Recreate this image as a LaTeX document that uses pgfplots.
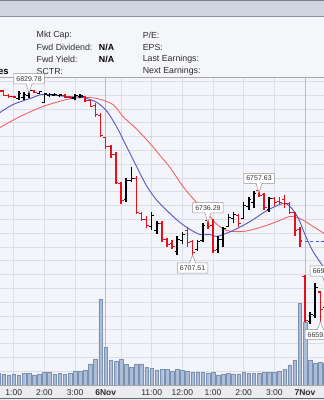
\documentclass[border=0pt]{standalone}
\usepackage{pgfplots}
\pgfplotsset{compat=1.18}
\usepackage{pgfplotstable}
\usepackage{fontspec}
\setmainfont{Liberation Sans}
\usetikzlibrary{shapes.callouts,calc}

\definecolor{hdr}{RGB}{207,212,224}
\definecolor{hdrline}{RGB}{120,126,140}
\definecolor{infobg}{RGB}{245,246,250}
\definecolor{chartbg}{RGB}{244,245,250}
\definecolor{gridc}{RGB}{219,222,231}
\definecolor{daygrid}{RGB}{185,190,203}
\definecolor{volfill}{RGB}{172,189,213}
\definecolor{voldraw}{RGB}{122,145,180}
\definecolor{barRed}{RGB}{228,18,24}
\definecolor{maRed}{RGB}{240,100,100}
\definecolor{maBlue}{RGB}{85,85,195}
\definecolor{dashBlue}{RGB}{70,90,230}
\definecolor{bandbg}{RGB}{234,236,241}
\definecolor{txt}{RGB}{45,45,45}
\definecolor{lblgray}{RGB}{150,150,150}

\tikzset{lbl/.style={rectangle callout, draw=lblgray, fill=white, text=black!80,
    font=\fontsize{7}{8}\selectfont, inner xsep=2.6pt, inner ysep=2.6pt,
    callout pointer width=6pt, line width=0.5pt}}

% OHLC bars, red (down) and black (up)
\pgfplotstableread{
k o h l c
-21 6828.91 6829.28 6828.55 6828.77
-20 6828.77 6828.91 6825.29 6825.65
-19 6825.65 6826.38 6823.48 6824.93
-18 6824.93 6825.65 6823.48 6824.57
-14 6829.30 6829.50 6827.10 6827.83
-8 6825.65 6826.38 6823.48 6824.20
-7 6824.20 6825.65 6823.48 6823.84
-4 6824.93 6825.65 6821.30 6822.03
-3 6822.03 6822.75 6816.96 6817.68
-2 6818.41 6819.86 6810.43 6811.88
-1 6811.16 6812.61 6795.94 6796.67
0 6795.22 6795.94 6786.52 6788.70
1 6788.70 6789.42 6780.72 6782.90
2 6782.90 6784.35 6761.16 6762.61
3 6761.88 6762.61 6746.67 6749.57
6 6765.51 6766.96 6739.42 6740.87
7 6740.14 6740.87 6734.35 6735.80
8 6735.80 6737.97 6729.28 6731.45
11 6732.90 6734.35 6719.13 6721.30
12 6721.30 6722.75 6715.51 6717.68
13 6718.41 6721.30 6714.06 6716.23
16 6727.83 6730.72 6716.23 6719.13
17 6719.86 6721.30 6707.51 6711.88
20 6735.07 6736.29 6728.55 6730.72
21 6731.45 6735.80 6711.88 6713.33
26 6738.70 6739.42 6730.72 6732.90
30 6756.81 6757.63 6751.74 6753.19
31 6753.91 6755.36 6743.04 6744.49
33 6751.01 6752.46 6745.22 6748.12
34 6748.84 6752.46 6746.67 6748.12
35 6750.29 6753.91 6744.49 6747.39
36 6747.39 6748.12 6739.42 6740.87
37 6740.87 6741.59 6723.48 6727.83
38 6728.55 6730.72 6715.51 6720.10
39 6694.49 6695.22 6661.16 6662.61
42 6683.26 6684.00 6659.27 6670.58
}\redbars

\pgfplotstableread{
k o h l c
-17 6823.48 6828.55 6822.03 6827.10
-16 6824.20 6827.83 6822.75 6826.38
-15 6825.65 6829.78 6824.20 6829.28
-13 6827.10 6828.91 6826.74 6828.55
-12 6820.58 6827.50 6820.22 6826.80
-11 6825.65 6827.10 6824.57 6826.38
-10 6826.01 6827.10 6824.93 6826.38
-9 6825.65 6826.74 6824.57 6826.01
-6 6823.84 6826.38 6822.75 6825.65
-5 6824.93 6826.38 6823.48 6825.29
4 6750.29 6766.23 6748.12 6764.06
5 6764.06 6774.20 6763.33 6765.51
9 6730.72 6740.87 6727.83 6738.70
10 6727.83 6734.35 6724.93 6732.90
14 6712.61 6723.48 6710.43 6721.30
15 6720.58 6726.38 6717.68 6724.93
18 6714.06 6721.30 6713.33 6719.86
19 6720.58 6733.62 6719.13 6731.45
22 6714.06 6723.48 6711.88 6721.30
23 6721.30 6730.72 6716.23 6729.28
24 6730.72 6739.42 6730.00 6737.25
25 6736.52 6740.87 6733.62 6739.42
27 6736.52 6748.12 6735.80 6745.94
28 6745.22 6751.74 6743.04 6750.29
29 6748.12 6756.09 6744.49 6754.64
32 6743.04 6752.46 6740.87 6751.01
40 6661.88 6668.41 6660.43 6666.96
41 6666.23 6689.42 6664.78 6686.52
43 6672.00 6690.47 6668.00 6688.00
}\blackbars

\pgfplotstableread{
k v
-21 12
-20 10.7
-19 10
-18 11
-17 10
-16 11.7
-15 11.7
-14 10
-13 11
-12 12.7
-11 12.7
-10 11
-9 11.7
-8 11
-7 11.7
-6 14
-5 13.3
-4 15
-3 21
-2 25.7
-1 86
0 37.7
1 25
2 23.3
3 25.7
4 20.7
5 17.7
6 21
7 21
8 17.3
9 16.7
10 15
11 15.7
12 15.7
13 14
14 15.7
15 15
16 13.3
17 12.3
18 13
19 12.3
20 12
21 12.3
22 10
23 11
24 11.7
25 11
26 11
27 12.3
28 11.7
29 11.7
30 11.7
31 12.3
32 12.3
33 12.3
34 13.3
35 15.7
36 20
37 25
38 81.7
39 63
40 25
41 21.7
42 22.7
43 22
}\voldata

\begin{document}
\begin{tikzpicture}[x=1pt,y=1pt]
\useasboundingbox (0,0) rectangle (324,400);
\clip (0,0) rectangle (324,400);
% backgrounds
\fill[infobg] (0,0) rectangle (324,400);
\fill[hdr] (0,384) rectangle (324,400);
\draw[hdrline, line width=1.2pt] (0,399.6) -- (324,399.6);
\draw[hdrline!85, line width=0.9pt] (0,384) -- (324,384);
\fill[chartbg] (0,15) rectangle (324,322);
\fill[bandbg] (0,0) rectangle (324,15);
\draw[black!35, line width=0.8pt] (0,322.5) -- (324,322.5);

% info text
\begin{scope}[every node/.style={font=\fontsize{8.8}{10}\selectfont, text=txt, anchor=west, inner sep=0pt}]
\node at (36.5,365) {Mkt Cap:};
\node at (36.5,353) {Fwd Dividend:};
\node at (36.5,340.3) {Fwd Yield:};
\node at (36.5,328.3) {SCTR:};
\node[text=black] at (98.8,353) {\textbf{N/A}};
\node[text=black] at (98.8,340.3) {\textbf{N/A}};
\node at (142.6,365) {P/E:};
\node at (142.6,353) {EPS:};
\node at (142.6,340.3) {Last Earnings:};
\node at (142.6,328.3) {Next Earnings:};
\end{scope}
\node[font=\fontsize{9.5}{11}\selectfont\bfseries, text=black, anchor=east, inner sep=0pt] at (8.8,328.3) {es};

% volume axis with grid and date labels
\begin{axis}[
  at={(0,15)}, anchor=south west, scale only axis,
  width=324pt, height=307pt,
  xmin=-20.685, xmax=42.72, ymin=0, ymax=307,
  axis line style={draw=none}, tick style={draw=none}, major tick length=0pt,
  ytick={0,13.8,...,304}, yticklabel=\empty,
  xtick={-18,-12,-6,3,9,15,21,27,33},
  xticklabels={1:00,2:00,3:00,{},11:00,12:00,1:00,2:00,3:00},
  extra x ticks={0,39},
  extra x tick labels={\textbf{6Nov},\textbf{7Nov}},
  extra x tick style={grid=major, major grid style={draw=daygrid, line width=0.8pt}},
  grid=major, major grid style={draw=gridc, line width=0.65pt},
  xticklabel style={font=\fontsize{8.5}{10}\selectfont, text=txt, anchor=center, yshift=-8pt},
]
\addplot[ybar, bar width=3.6pt, fill=volfill, draw=voldraw, line width=0.4pt] table[x=k,y=v] {\voldata};
\end{axis}
\draw[black!35, line width=0.8pt] (0,15) -- (324,15);
\draw[black!60, line width=1.2pt] (0,1.4) -- (324,1.4);

% price axis
\begin{axis}[
  at={(0,15)}, anchor=south west, scale only axis,
  width=324pt, height=307pt,
  xmin=-20.685, xmax=42.72, ymin=6620, ymax=6842.464,
  hide axis,
]
\addplot[maRed, line width=0.9pt, smooth] coordinates {
(-20.68,6802.5) (-16.77,6810.4) (-12.27,6817.7) (-7.57,6822.8) (-4.44,6824.2)
(-1.70,6823.5) (1.43,6819.1) (3.39,6810.4) (6.13,6801.0) (8.67,6790.9)
(10.63,6782.2) (12.58,6773.5) (15.13,6759.7) (17.08,6751.0) (19.04,6743.0)
(20.41,6738.0) (21.78,6732.2) (23.74,6727.8) (26.87,6727.1) (30.19,6730.0)
(33.52,6734.3) (36.07,6738.0) (38.02,6736.5) (39.98,6732.2) (42.72,6725.7)};
\addplot[maBlue, line width=0.9pt, smooth] coordinates {
(-20.68,6813.3) (-18.14,6819.1) (-14.23,6824.2) (-12.27,6826.4) (-7.57,6824.9)
(-4.44,6824.2) (-1.70,6820.6) (0.25,6814.1) (2.21,6802.5) (4.17,6788.0)
(6.13,6773.5) (8.08,6759.7) (10.04,6749.6) (12.58,6740.1) (14.54,6733.6)
(16.50,6728.6) (18.46,6724.9) (20.41,6724.9) (21.78,6723.5) (24.91,6727.8)
(28.24,6734.3) (31.57,6742.3) (34.70,6747.4) (36.07,6745.2) (37.63,6737.2)
(39.00,6724.9) (40.57,6712.6) (42.72,6701.0)};
\addplot[dashBlue, line width=0.9pt, dash pattern=on 3pt off 2.5pt] coordinates {(39,6720.1) (44,6720.1)};

% red bars
\addplot[barRed, line width=1.55pt, quiver={u=0, v=\thisrow{l}-\thisrow{h}}] table[x=k,y=h] {\redbars};
\addplot[barRed, line width=1.55pt, quiver={u=-0.5, v=0}] table[x=k,y=o] {\redbars};
\addplot[barRed, line width=1.55pt, quiver={u=0.5, v=0}] table[x=k,y=c] {\redbars};
% black bars
\addplot[black, line width=1.5pt, quiver={u=0, v=\thisrow{l}-\thisrow{h}}] table[x=k,y=h] {\blackbars};
\addplot[black, line width=1.5pt, quiver={u=-0.5, v=0}] table[x=k,y=o] {\blackbars};
\addplot[black, line width=1.5pt, quiver={u=0.5, v=0}] table[x=k,y=c] {\blackbars};

% high / low callouts
\node[lbl, callout relative pointer={(0pt,-9.5pt)}] at ($(axis cs:-15,6829.78)+(0pt,11pt)$) {6829.78};
\node[lbl, callout relative pointer={(0pt,-9.5pt)}] at ($(axis cs:20,6736.29)+(0pt,11pt)$) {6736.29};
\node[lbl, callout relative pointer={(0pt,-9.5pt)}] at ($(axis cs:30,6757.63)+(0pt,11pt)$) {6757.63};
\node[lbl, callout relative pointer={(0pt,-9.5pt)}] at ($(axis cs:43,6690.47)+(0pt,11pt)$) {6690.47};
\node[lbl, callout relative pointer={(0pt,8pt)}] at ($(axis cs:17,6707.51)+(0pt,-9.5pt)$) {6707.51};
\node[lbl, callout relative pointer={(0pt,8pt)}] at ($(axis cs:42,6659.27)+(0pt,-9.5pt)$) {6659.27};
\end{axis}
\end{tikzpicture}
\end{document}
